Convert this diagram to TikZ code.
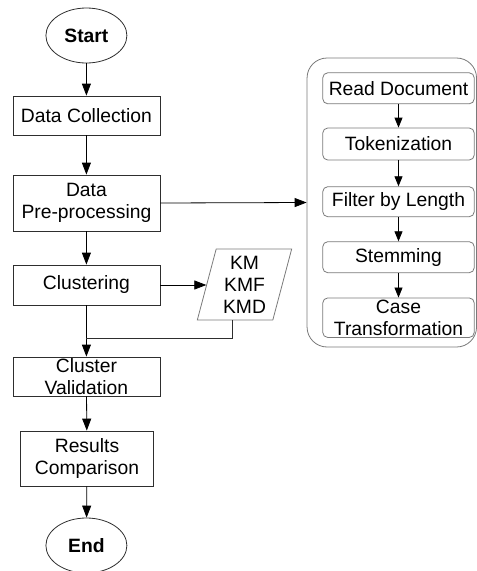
\documentclass[tikz,border=0pt]{standalone}
\usepackage{fontspec}
\setmainfont{Liberation Sans}
\usetikzlibrary{arrows.meta,shapes.geometric,calc}

\definecolor{edgedark}{HTML}{2E2E2E}
\definecolor{edgelight}{HTML}{7A7A7A}

\tikzset{
  txt/.style={font=\fontsize{19.3}{22}\selectfont},
  term/.style={txt, draw=edgedark, line width=0.8pt, ellipse, inner sep=0pt,
    minimum width=81pt, minimum height=55pt, font=\fontsize{19.3}{22}\selectfont\bfseries},
  proc/.style={txt, draw=edgedark, line width=0.8pt, rectangle, inner sep=0pt,
    minimum width=147pt, align=center},
  substep/.style={txt, draw=edgelight, line width=0.8pt, rectangle, rounded corners=5pt,
    inner sep=0pt, minimum width=151.5pt, align=center},
  flow/.style={draw=black, line width=0.8pt, -{Triangle[length=12pt,width=9pt]}},
  shortflow/.style={draw=black, line width=0.8pt, -{Triangle[length=10pt,width=8pt]}},
  plain/.style={draw=edgedark, line width=0.8pt},
}

\begin{document}
\begin{tikzpicture}[x=1pt,y=-1pt]
  \useasboundingbox (0,0) rectangle (477,571);

  % main column
  \node[term] (start) at (86.4,35.5) {Start};
  \node[proc, minimum height=39pt] (collect) at (86.4,115.5) {Data Collection};
  \node[proc, minimum height=56pt] (prep) at (86.4,203) {Data\\Pre-processing};
  \node[proc, minimum height=40pt] (clust) at (86.4,285) {Clustering};
  \node[proc, minimum height=39pt] (valid) at (86.4,376.5) {Cluster\\Validation};
  \node[proc, minimum width=133pt, minimum height=55pt] (compare) at (87,458.5) {Results\\Comparison};
  \node[term] (finish) at (86.4,545.5) {End};

  % algorithm variants
  \node[txt, draw=edgelight, line width=0.8pt, trapezium, trapezium stretches=true,
    trapezium left angle=76, trapezium right angle=104, inner sep=0pt,
    minimum width=95pt, minimum height=71pt, align=center] (algo) at (244.5,284.5) {KM\\KMF\\KMD};

  % preprocessing pipeline
  \node[draw=edgelight, line width=0.8pt, rectangle, rounded corners=20pt, inner sep=0pt,
    minimum width=169.5pt, minimum height=289pt] (pipe) at (391.8,202.5) {};
  \node[substep, minimum height=31pt] (read) at (398.5,88.3) {Read Document};
  \node[substep, minimum height=32pt] (token) at (398.5,144) {Tokenization};
  \node[substep, minimum height=30pt] (filter) at (398.5,201.7) {Filter by Length};
  \node[substep, minimum height=31pt] (stem) at (398.5,257.2) {Stemming};
  \node[substep, minimum height=39.5pt] (case) at (398.5,317.7) {Case\\Transformation};

  % connectors
  \draw[flow] (start) -- (collect);
  \draw[flow] (collect) -- (prep);
  \draw[flow] (prep) -- (clust);
  \draw[flow] (clust) -- (valid);
  \draw[flow] (valid) -- (compare);
  \draw[flow] (compare) -- (finish);
  \draw[flow] (prep.east) -- (pipe.west);
  \draw[flow] (clust.east) -- (clust.east -| algo.west);

  \coordinate (merge) at ($(clust.south)!0.635!(valid.north)$);
  \draw[plain] ([xshift=-12.5pt]algo.south) |- (merge);

  \draw[shortflow] (read) -- (token);
  \draw[shortflow] (token) -- (filter);
  \draw[shortflow] (filter) -- (stem);
  \draw[shortflow] (stem) -- (case);
\end{tikzpicture}
\end{document}
